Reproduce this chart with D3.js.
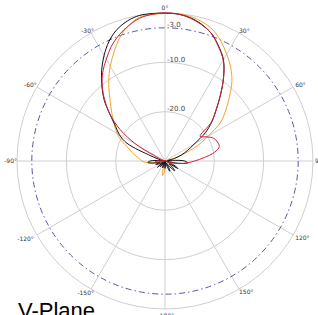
<!DOCTYPE html>
<html><head><meta charset="utf-8">
<script src="https://cdn.jsdelivr.net/npm/d3@7"></script>
<style>html,body{margin:0;padding:0;background:#fff;overflow:hidden}svg{display:block}</style>
</head><body>
<svg id="c" width="318" height="315"></svg>
<script>
const angles = [-180,-175,-170,-165,-160,-155,-150,-145,-140,-135,-130,-125,-120,-115,-110,-105,-100,-95,-90,-85,-80,-75,-70,-65,-60,-55,-50,-45,-40,-35,-30,-25,-20,-15,-10,-5,0,5,10,15,20,25,30,35,40,45,50,55,60,65,70,75,80,85,90,95,100,105,110,115,120,125,130,135,140,145,150,155,160,165,170,175];
const blackSeries = [-28.5,-29.5,-30,-29,-28.5,-29.5,-30,-29,-28.5,-29.5,-28,-29.5,-30,-28.5,-28,-29,-27.5,-26.5,-27,-29,-30,-29,-27,-21.5,-19.3,-17.8,-15.5,-12.6,-10.1,-7.6,-5.3,-3.2,-1.6,-0.6,-0.05,0,0,-0.1,-0.5,-1.3,-2.5,-4.3,-6.3,-9.3,-12.5,-15.3,-17.6,-20.0,-23.2,-25,-26.5,-28,-29.5,-28.5,-26,-25.4,-27.5,-30,-29.5,-28,-27,-29,-28,-27.2,-28.5,-29.5,-28.5,-27.7,-29,-30,-29.5,-29];
const redSeries = [-30,-30,-30,-30,-30,-30,-30,-30,-30,-30,-30,-30,-30,-30,-30,-30,-29,-28,-28.5,-30,-30,-30,-29.5,-28.5,-23.2,-18.9,-15.6,-12.8,-10.2,-8.0,-6.2,-4.3,-2.8,-1.6,-0.6,-0.15,0,-0.08,-0.6,-1.4,-2.5,-4.4,-6.4,-9.3,-12.5,-15.4,-17.7,-21.3,-20.2,-19.1,-18.7,-18.6,-19.8,-22,-24,-25.5,-27,-28.5,-30,-30,-30,-30,-30,-30,-30,-30,-30,-30,-30,-30,-30,-30];
const orangeSeries = [-28.5,-27.5,-27,-29,-30,-30,-30,-30,-30,-30,-30,-30,-30,-30,-30,-30,-28.5,-26.3,-25.3,-24.8,-24,-23,-22,-20.2,-18.8,-17.5,-16.1,-14.5,-12.5,-10.1,-7.8,-5.6,-3.3,-1.55,-0.4,-0.2,-0.1,-0.05,-0.25,-0.8,-1.7,-3.2,-5.0,-6.8,-8.9,-11.5,-13.9,-16.2,-19.9,-22.8,-26.5,-28.5,-30,-30,-30,-29.5,-28.5,-29.5,-30,-30,-30,-30,-30,-30,-30,-30,-30,-30,-30,-30,-30,-30];
const ringLevels = [-20, -10, 0];
const ringLabels = ["-20.0", "-10.0", "-3.0"];
const ringLabelLevels = [-20, -10, -3];
const refLevel = -3;
const spokeAngles = [0,30,60,90,120,150,180,-150,-120,-90,-60,-30];
const spokeLabels = ["0°","30°","60°","90°","120°","150°","180°","-150°","-120°","-90°","-60°","-30°"];
const title = "V-Plane";

const svg = d3.select("#c");
const cx = 165, cy = 161, R = 148;
const r = d3.scaleLinear().domain([-30, 0]).range([0, R]).clamp(true);
const g = svg.append("g").attr("transform", `translate(${cx},${cy})`);
const gridColor = "#cfcfcf";

// rings
g.selectAll("circle.ring").data(ringLevels).join("circle")
  .attr("r", d => r(d)).attr("fill", "none").attr("stroke", gridColor).attr("stroke-width", 1);
// spokes
const rad = a => a * Math.PI / 180;
g.selectAll("line.spoke").data(spokeAngles).join("line")
  .attr("x1", 0).attr("y1", 0)
  .attr("x2", d => R * Math.sin(rad(d))).attr("y2", d => -R * Math.cos(rad(d)))
  .attr("stroke", gridColor).attr("stroke-width", 1);

// -3 dB reference circle
g.append("circle").attr("r", r(refLevel)).attr("fill", "none")
  .attr("stroke", "#5656b0").attr("stroke-width", 1).attr("stroke-dasharray", "6,3,1.5,3");

// ring labels
g.selectAll("text.rl").data(ringLabels).join("text")
  .attr("x", 2).attr("y", (d, i) => -r(ringLabelLevels[i]) - 0.5)
  .attr("font-family", "DejaVu Sans").attr("font-size", 7).attr("fill", "#444")
  .text(d => d);

// spoke labels
spokeAngles.forEach((a, i) => {
  const x = R * Math.sin(rad(a)), y = -R * Math.cos(rad(a));
  let anchor = "middle", dx = 0, dy = 0;
  if (a === 0) { dy = -3; }
  else if (a === 180) { dy = 9; dx = 2; }
  else if (a > 0) { anchor = "start"; dx = a === 30 || a === 150 ? 0 : 2; dy = a < 90 ? 0 : (a === 90 ? 2 : 5); }
  else { anchor = "end"; dx = a === -30 || a === -150 ? 3 : (a === -120 ? -3 : 0); dy = a > -90 ? 0 : (a === -90 ? 2 : 6); }
  g.append("text").attr("x", x + dx).attr("y", y + dy).attr("text-anchor", anchor)
    .attr("font-family", "DejaVu Sans").attr("font-size", 6).attr("fill", "#333")
    .text(spokeLabels[i]);
});

// traces
const line = d3.lineRadial()
  .angle(d => rad(d[0])).radius(d => r(d[1]))
  .curve(d3.curveCatmullRomClosed.alpha(0.5));
const series = [
  {vals: orangeSeries, color: "#f2a22e"},
  {vals: blackSeries, color: "#111111"},
  {vals: redSeries, color: "#d0203a"}
];
series.forEach(s => {
  g.append("path").datum(angles.map((a, i) => [a, s.vals[i]]))
    .attr("d", line).attr("fill", "none").attr("stroke", s.color).attr("stroke-width", 1);
});

svg.append("text").attr("x", 18).attr("y", 318)
  .attr("font-family", "Liberation Sans, Arial, sans-serif").attr("font-size", 22).attr("fill", "#000")
  .text(title);
</script>
</body></html>
